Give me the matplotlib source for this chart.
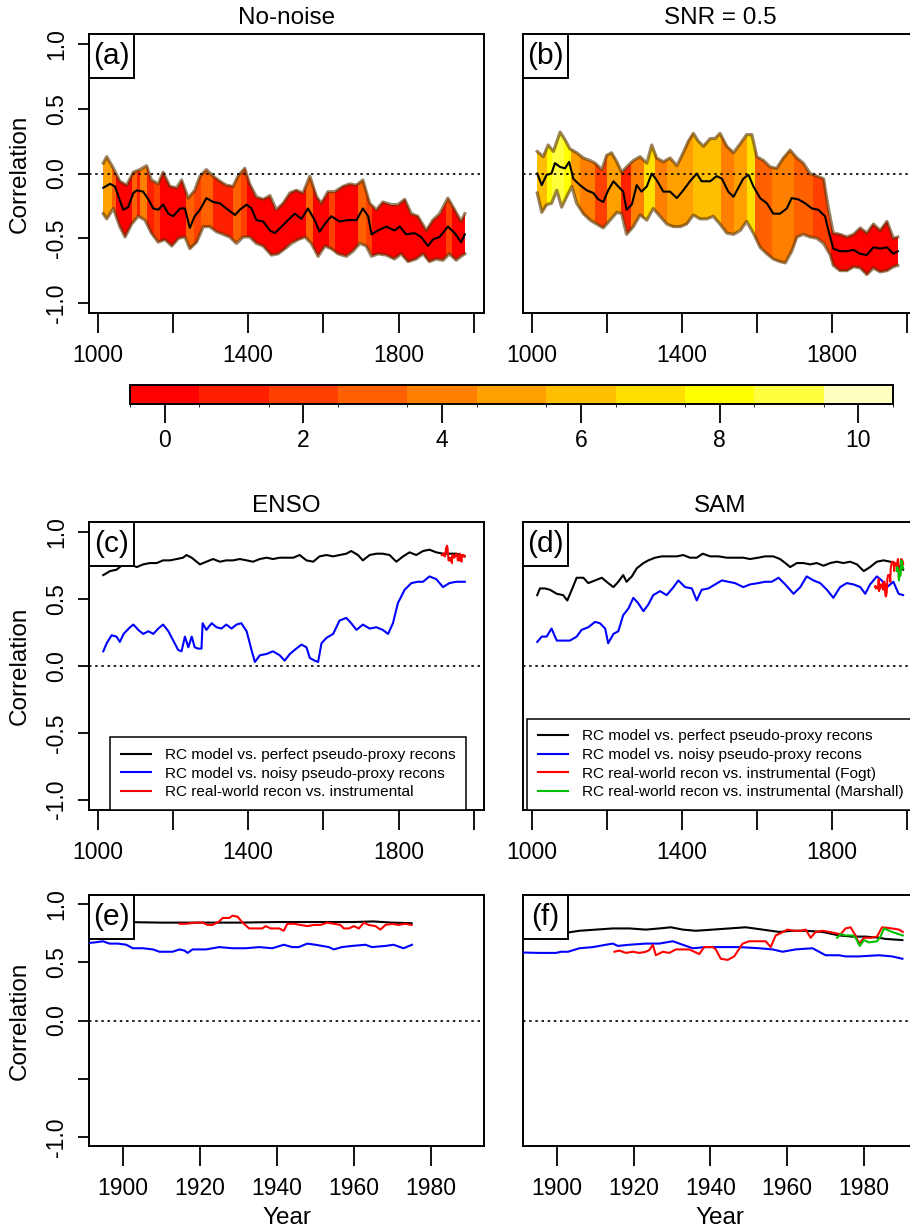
import matplotlib
matplotlib.use('Agg')
import matplotlib.pyplot as plt
import numpy as np
from matplotlib.colors import ListedColormap, BoundaryNorm, hsv_to_rgb
from matplotlib.patches import Polygon, Rectangle
import matplotlib.colorbar as mcb

plt.rcParams['font.family'] = ['Liberation Sans', 'DejaVu Sans']

# ---- panel (a): no-noise, moving correlation with range band ----
a_mean_yr = [1015,1033,1046,1068,1081,1095,1104,1121,1135,1148,1161,1174,1188,1201,1219,1232,1245,1258,1272,1289,
             1307,1325,1342,1365,1378,1396,1409,1422,1440,1458,1471,1489,1506,1524,1542,1559,1577,1590,1604,1621,
             1643,1666,1688,1705,1719,1728,1745,1767,1789,1803,1820,1842,1860,1878,1891,1909,1931,1949,1966,1976]
a_mean = [-0.11,-0.08,-0.10,-0.28,-0.26,-0.15,-0.13,-0.14,-0.20,-0.27,-0.28,-0.24,-0.31,-0.33,-0.27,-0.27,-0.42,-0.33,-0.28,-0.19,
          -0.22,-0.23,-0.27,-0.32,-0.28,-0.24,-0.27,-0.36,-0.37,-0.44,-0.46,-0.41,-0.36,-0.31,-0.35,-0.27,-0.36,-0.45,-0.39,-0.33,
          -0.37,-0.36,-0.36,-0.27,-0.33,-0.47,-0.44,-0.41,-0.44,-0.41,-0.47,-0.46,-0.49,-0.56,-0.51,-0.49,-0.41,-0.46,-0.53,-0.47]
a_up_yr = [1015,1024,1042,1059,1077,1095,1112,1130,1143,1161,1174,1192,1210,1223,1241,1258,1272,1289,1307,1325,
           1342,1360,1373,1391,1404,1422,1440,1458,1475,1493,1511,1528,1546,1564,1582,1595,1612,1630,1652,1670,
           1688,1705,1723,1741,1758,1781,1798,1816,1834,1851,1874,1891,1909,1931,1949,1966,1976]
a_up = [0.08,0.13,0.04,-0.06,-0.09,0.01,0.03,0.06,-0.05,-0.08,0.01,-0.10,-0.11,-0.05,-0.19,-0.13,-0.02,0.03,-0.02,-0.06,
        -0.09,-0.10,-0.02,0.04,-0.08,-0.18,-0.20,-0.17,-0.28,-0.23,-0.15,-0.13,-0.15,-0.02,-0.18,-0.23,-0.14,-0.14,-0.10,-0.08,
        -0.09,-0.05,-0.23,-0.28,-0.22,-0.24,-0.24,-0.20,-0.31,-0.33,-0.44,-0.36,-0.31,-0.19,-0.28,-0.37,-0.31]
a_lo_yr = [1015,1024,1042,1059,1073,1090,1108,1126,1143,1161,1179,1197,1215,1232,1245,1263,1281,1298,1316,1334,
           1351,1369,1387,1404,1422,1440,1462,1480,1498,1515,1533,1551,1568,1586,1604,1621,1639,1661,1679,1697,
           1714,1728,1745,1767,1789,1807,1825,1847,1865,1882,1900,1918,1935,1953,1966,1976]
a_lo = [-0.31,-0.35,-0.27,-0.41,-0.49,-0.39,-0.33,-0.36,-0.46,-0.53,-0.51,-0.56,-0.50,-0.49,-0.58,-0.53,-0.41,-0.41,-0.45,-0.47,
        -0.49,-0.54,-0.49,-0.49,-0.54,-0.56,-0.63,-0.62,-0.58,-0.54,-0.51,-0.49,-0.54,-0.64,-0.56,-0.58,-0.62,-0.64,-0.60,-0.54,
        -0.56,-0.64,-0.62,-0.63,-0.66,-0.62,-0.68,-0.66,-0.62,-0.68,-0.66,-0.67,-0.62,-0.67,-0.64,-0.62]
a_col_edges = [1011,1037,1050,1090,1104,1112,1130,1150,1165,1236,1255,1275,1307,1360,1380,1396,1555,1573,1615,1630,
               1692,1714,1730,1925,1942,1980]
a_col_vals = [5,3,0,3,1,4,1,2,0,3,2,3,1,3,2,0,3,0,2,0,3,2,0,2,0]

# ---- panel (b): SNR = 0.5 ----
b_mean_yr = [1015,1027,1040,1053,1062,1076,1089,1100,1111,1129,1147,1164,1178,1191,1204,1218,1231,1244,1253,1267,
             1280,1293,1307,1320,1333,1351,1369,1387,1404,1422,1440,1453,1476,1493,1507,1524,1538,1551,1564,1578,
             1591,1609,1627,1644,1662,1680,1693,1711,1729,1747,1764,1782,1791,1804,1822,1840,1858,1876,1893,1911,
             1929,1947,1964,1976]
b_mean = [0.0,-0.09,-0.01,0.0,0.08,0.05,0.04,0.09,-0.04,-0.09,-0.13,-0.15,-0.20,-0.22,-0.13,-0.06,-0.10,-0.14,-0.28,-0.24,
          -0.09,-0.14,-0.10,0.0,-0.05,-0.14,-0.14,-0.19,-0.13,-0.06,0.0,-0.06,-0.06,-0.02,-0.04,-0.14,-0.18,-0.11,-0.04,-0.01,
          -0.10,-0.19,-0.23,-0.31,-0.31,-0.27,-0.19,-0.20,-0.23,-0.27,-0.28,-0.33,-0.44,-0.58,-0.60,-0.60,-0.59,-0.62,-0.63,-0.57,
          -0.58,-0.57,-0.62,-0.60]
b_up_yr = [1015,1031,1044,1058,1076,1089,1102,1120,1138,1156,1169,1187,1200,1213,1227,1240,1253,1271,1289,1307,
           1320,1333,1351,1369,1387,1404,1418,1431,1444,1458,1476,1489,1502,1520,1538,1556,1573,1587,1600,1618,
           1636,1653,1671,1689,1707,1724,1742,1760,1778,1791,1804,1822,1840,1858,1876,1893,1911,1929,1947,1964,1976]
b_up = [0.17,0.13,0.22,0.17,0.32,0.26,0.19,0.16,0.12,0.10,0.08,0.03,0.14,0.16,0.09,0.01,0.05,0.10,0.13,0.08,
        0.22,0.12,0.09,0.12,0.06,0.16,0.25,0.31,0.25,0.21,0.27,0.27,0.31,0.21,0.16,0.23,0.30,0.30,0.13,0.10,
        0.05,0.04,0.12,0.18,0.12,0.08,0.0,-0.02,-0.04,-0.27,-0.46,-0.47,-0.49,-0.47,-0.42,-0.46,-0.39,-0.44,-0.37,-0.50,-0.49]
b_lo_yr = [1015,1027,1040,1053,1067,1080,1093,1107,1120,1138,1156,1173,1191,1209,1227,1240,1253,1271,1289,1307,
           1324,1342,1360,1378,1396,1413,1431,1449,1467,1484,1502,1520,1538,1556,1573,1591,1609,1627,1644,1662,
           1676,1693,1707,1724,1742,1760,1778,1796,1804,1822,1840,1858,1876,1893,1911,1929,1947,1964,1976]
b_lo = [-0.15,-0.30,-0.24,-0.23,-0.13,-0.26,-0.18,-0.10,-0.23,-0.31,-0.36,-0.39,-0.42,-0.36,-0.30,-0.31,-0.47,-0.41,-0.32,-0.36,
        -0.27,-0.33,-0.39,-0.41,-0.41,-0.39,-0.32,-0.35,-0.35,-0.33,-0.39,-0.46,-0.47,-0.44,-0.37,-0.46,-0.57,-0.62,-0.66,-0.68,
        -0.69,-0.60,-0.49,-0.47,-0.49,-0.50,-0.54,-0.63,-0.71,-0.75,-0.75,-0.72,-0.73,-0.78,-0.73,-0.76,-0.75,-0.72,-0.71]
b_col_edges = [1013,1040,1055,1085,1105,1130,1170,1200,1237,1265,1300,1328,1360,1430,1505,1540,1573,1595,1640,1700,
               1750,1797,1980]
b_col_vals = [6,8,9,8,5,4,2,5,1,4,7,4,5,6,4,5,7,3,4,3,2,0]

# ---- panel (c): ENSO ----
c_perf_yr = [1015,1033,1050,1068,1086,1104,1121,1139,1157,1174,1192,1210,1227,1236,1250,1263,1272,1289,1307,1325,
             1342,1360,1378,1396,1413,1431,1449,1466,1484,1502,1520,1537,1555,1573,1590,1608,1626,1643,1661,1674,
             1692,1705,1723,1741,1758,1776,1794,1812,1829,1847,1865,1882,1900,1918,1935,1953,1976]
c_perf = [0.68,0.71,0.72,0.76,0.76,0.74,0.76,0.77,0.77,0.79,0.79,0.80,0.81,0.83,0.81,0.78,0.76,0.78,0.80,0.78,
          0.79,0.79,0.80,0.79,0.78,0.80,0.81,0.80,0.81,0.81,0.81,0.83,0.79,0.78,0.82,0.83,0.82,0.83,0.84,0.86,
          0.83,0.79,0.83,0.84,0.84,0.83,0.78,0.82,0.85,0.83,0.86,0.87,0.85,0.84,0.84,0.84,0.82]
c_noisy_yr = [1015,1024,1037,1050,1059,1069,1086,1095,1108,1121,1135,1148,1161,1174,1188,1201,1214,1223,1232,1241,
              1250,1258,1267,1276,1279,1289,1303,1316,1329,1342,1356,1369,1382,1396,1409,1418,1431,1449,1466,1484,
              1497,1511,1528,1542,1555,1564,1577,1586,1595,1608,1626,1643,1661,1674,1688,1705,1723,1741,1758,1772,
              1785,1798,1816,1834,1851,1865,1882,1900,1918,1935,1953,1976]
c_noisy = [0.11,0.17,0.23,0.22,0.18,0.24,0.29,0.31,0.27,0.24,0.26,0.24,0.28,0.31,0.26,0.19,0.12,0.11,0.22,0.14,
           0.22,0.14,0.13,0.13,0.32,0.27,0.32,0.29,0.28,0.31,0.28,0.31,0.32,0.26,0.12,0.03,0.08,0.09,0.11,0.08,
           0.04,0.09,0.13,0.16,0.14,0.06,0.04,0.03,0.17,0.21,0.24,0.34,0.36,0.32,0.27,0.31,0.28,0.29,0.27,0.24,
           0.32,0.47,0.57,0.62,0.63,0.63,0.67,0.65,0.59,0.62,0.63,0.63]

# ---- panel (d): SAM ----
d_perf_yr = [1015,1022,1036,1049,1067,1084,1095,1107,1120,1138,1151,1169,1187,1204,1218,1231,1244,1253,1267,1280,
             1298,1311,1329,1347,1364,1387,1404,1422,1440,1456,1476,1498,1520,1542,1564,1582,1604,1622,1644,1662,
             1676,1689,1707,1724,1742,1760,1778,1796,1813,1831,1849,1867,1885,1902,1920,1938,1956,1973,1990]
d_perf = [0.53,0.58,0.58,0.57,0.54,0.53,0.49,0.57,0.66,0.66,0.62,0.64,0.66,0.62,0.59,0.63,0.68,0.63,0.67,0.73,
          0.77,0.79,0.81,0.82,0.82,0.82,0.83,0.81,0.81,0.84,0.82,0.82,0.81,0.81,0.81,0.80,0.81,0.82,0.82,0.80,
          0.77,0.74,0.77,0.77,0.76,0.77,0.75,0.77,0.78,0.77,0.78,0.76,0.71,0.74,0.78,0.79,0.78,0.76,0.72]
d_noisy_yr = [1015,1027,1040,1053,1067,1084,1102,1120,1133,1151,1169,1182,1196,1204,1218,1231,1244,1258,1271,1284,
              1298,1311,1324,1342,1360,1378,1391,1409,1427,1440,1453,1471,1489,1507,1524,1542,1564,1582,1604,1622,
              1640,1658,1676,1698,1716,1733,1751,1769,1787,1804,1822,1840,1858,1876,1889,1902,1920,1933,1947,1964,
              1978,1990]
d_noisy = [0.18,0.22,0.22,0.28,0.19,0.19,0.19,0.22,0.27,0.29,0.33,0.32,0.28,0.17,0.24,0.26,0.38,0.43,0.51,0.47,
           0.41,0.46,0.53,0.56,0.53,0.59,0.64,0.59,0.58,0.49,0.57,0.58,0.61,0.64,0.63,0.62,0.59,0.61,0.62,0.63,
           0.63,0.66,0.61,0.54,0.59,0.67,0.64,0.62,0.57,0.51,0.59,0.62,0.61,0.59,0.54,0.61,0.67,0.64,0.59,0.63,
           0.54,0.53]

# ---- panel (e): ENSO, 20th century ----
e_perf_yr = [1891,1900,1910,1920,1930,1940,1950,1960,1965,1970,1975]
e_perf = [0.85,0.845,0.84,0.84,0.84,0.845,0.845,0.845,0.85,0.84,0.835]
e_noisy_yr = [1889,1892.7,1894.8,1896.5,1898.7,1900.9,1902.6,1905.2,1907.8,1909.5,1912.9,1914.7,1916,1916.8,1918.1,
              1921.6,1925,1928.5,1931.9,1935.4,1938.8,1941.8,1944,1945.7,1947.9,1950,1953.5,1954.8,1956.9,1959.5,
              1963,1964.7,1968.2,1970.3,1972.9,1975.1]
e_noisy = [0.66,0.67,0.68,0.66,0.66,0.65,0.62,0.62,0.61,0.59,0.59,0.61,0.60,0.58,0.61,0.61,0.63,0.62,0.62,0.63,
           0.62,0.65,0.63,0.63,0.66,0.65,0.63,0.61,0.63,0.64,0.65,0.63,0.64,0.65,0.62,0.65]
enso_real_yr = [1914.7,1916.4,1919,1920.7,1922,1923.3,1925,1925.9,1927.6,1928.5,1929.8,1931.1,1932.8,1934.5,1936.2,
                1937.1,1938.4,1940.6,1941.8,1942.7,1944.4,1946.2,1947.9,1949.6,1951.3,1953.1,1954.8,1956.5,1957.4,
                1958.7,1960,1961.3,1962.6,1963.8,1965.6,1966.9,1968.2,1969.9,1971.6,1973.3,1975]
enso_real = [0.83,0.83,0.84,0.84,0.82,0.82,0.85,0.88,0.88,0.90,0.89,0.84,0.79,0.79,0.79,0.81,0.79,0.79,0.77,0.83,
             0.83,0.82,0.81,0.82,0.82,0.84,0.83,0.82,0.79,0.79,0.81,0.79,0.84,0.82,0.81,0.78,0.82,0.83,0.82,0.83,0.82]

# ---- panel (f): SAM, 20th century ----
f_perf_yr = [1889,1902.9,1905.9,1910.2,1914.6,1918.9,1923.2,1926.7,1929.7,1932.8,1936.2,1940.6,1944.9,1949.2,1953.6,
             1957.9,1961.4,1964.8,1969.2,1973.5,1977,1980.4,1983.9,1985.6,1990]
f_perf = [0.75,0.755,0.77,0.78,0.79,0.79,0.78,0.79,0.80,0.78,0.77,0.78,0.79,0.80,0.78,0.76,0.77,0.77,0.76,0.73,
          0.72,0.72,0.71,0.70,0.69]
f_noisy_yr = [1889,1895.5,1899.8,1901.1,1902.9,1905.9,1909.4,1912.8,1914.6,1915.9,1918.9,1923.2,1926.7,1930.2,1932.8,
              1935.4,1938.8,1942.3,1947.5,1952.7,1956.2,1958.8,1962.2,1966.6,1968.3,1970,1973.5,1975.2,1978.7,1983.9,
              1987.3,1990]
f_noisy = [0.585,0.58,0.58,0.59,0.59,0.62,0.63,0.65,0.66,0.64,0.65,0.66,0.66,0.68,0.65,0.62,0.63,0.63,0.63,0.62,
           0.61,0.59,0.61,0.62,0.59,0.56,0.56,0.55,0.55,0.56,0.55,0.53]
fogt_yr = [1915,1916.3,1918,1919.8,1921.5,1923.2,1924.1,1925,1925.8,1927.6,1929.3,1931,1932.8,1934.5,1937.1,1938.4,
           1940.6,1941.4,1942.7,1944.5,1946.2,1948.4,1950.1,1951.8,1954.4,1955.7,1957,1958.3,1960.1,1961.8,1963.5,
           1964.8,1966.1,1967.4,1969.2,1971.8,1973.9,1975.2,1976.5,1977.8,1978.7,1980,1981.7,1983.4,1984.7,1987.3,
           1989.1,1990.1]
fogt = [0.59,0.60,0.58,0.59,0.58,0.59,0.605,0.65,0.56,0.59,0.58,0.61,0.61,0.61,0.57,0.63,0.63,0.61,0.53,0.52,
        0.55,0.66,0.68,0.68,0.68,0.63,0.73,0.75,0.78,0.77,0.77,0.78,0.71,0.76,0.77,0.755,0.74,0.79,0.80,0.73,
        0.66,0.71,0.71,0.72,0.80,0.79,0.78,0.76]
marshall_yr = [1973,1973.9,1975.2,1977,1977.8,1978.9,1980,1981.3,1983.4,1984.3,1985.2,1987.3,1990.1]
marshall = [0.71,0.74,0.73,0.73,0.71,0.64,0.69,0.67,0.68,0.72,0.79,0.76,0.73]

lab_perf = 'RC model vs. perfect pseudo-proxy recons'
lab_noisy = 'RC model vs. noisy pseudo-proxy recons'

# R heat.colors(11)
heat = [hsv_to_rgb((h, 1, 1)) for h in np.linspace(0, 1/6, 9)] + \
       [hsv_to_rgb((1/6, s, 1)) for s in (0.75, 0.25)]
cmap = ListedColormap(heat)
norm = BoundaryNorm(np.arange(-0.5, 11.5, 1), cmap.N)

W, H = 910, 1232
fig = plt.figure(figsize=(W / 100, H / 100), dpi=100)


def add_axes_px(l, t, r, b):
    return fig.add_axes([l / W, 1 - b / H, (r - l) / W, (b - t) / H])


def style(ax, xlim, xticks, xlabels, ylabels=None):
    ax.set_xlim(*xlim)
    ax.set_ylim(-1.077, 1.077)
    for s in ax.spines.values():
        s.set_linewidth(1.4)
    ax.set_xticks(xticks)
    ax.set_xticklabels(xlabels)
    ax.tick_params(axis='x', direction='out', length=14.4, width=1.3, pad=8, labelsize=16.5)
    if ylabels is None:
        ax.set_yticks([])
    else:
        ax.set_yticks([1, 0.5, 0, -0.5, -1])
        ax.set_yticklabels(ylabels)
        ax.tick_params(axis='y', direction='out', length=8, width=1.3, pad=7,
                       labelsize=16.5, labelrotation=90)
        for lab in ax.get_yticklabels():
            lab.set_va('center')
    ax.axhline(0, color='black', lw=1.2, linestyle=(0, (1.5, 2.2)), zorder=2)


def panel_label(ax, s, axw, axh):
    w, h = 45 / axw, 44 / axh
    ax.add_patch(Rectangle((0, 1 - h), w, h, transform=ax.transAxes, facecolor='white',
                           edgecolor='black', lw=1.4, zorder=5, clip_on=False))
    ax.text(w / 2, 1 - h / 2, s, transform=ax.transAxes, ha='center', va='center',
            fontsize=21.5, zorder=6)


def band(ax, up_yr, up, lo_yr, lo, edges, vals, mean_yr, mean):
    xy = np.column_stack([np.concatenate([up_yr, lo_yr[::-1]]),
                          np.concatenate([up, lo[::-1]])])
    poly = Polygon(xy, closed=True, transform=ax.transData)
    mesh = ax.pcolormesh(edges, [-1.1, 1.1], np.array([vals]), cmap=cmap, norm=norm, zorder=1)
    mesh.set_clip_path(poly)
    edge = (0.35, 0.2, 0.0, 0.6)
    ax.plot(up_yr, up, color=edge, lw=2.3, zorder=2)
    ax.plot(lo_yr, lo, color=edge, lw=2.3, zorder=2)
    ax.plot(mean_yr, mean, color='black', lw=1.5, zorder=3)


def add_legend(ax, x0):
    leg = ax.legend(loc='lower left', bbox_to_anchor=(x0, 0), bbox_transform=ax.transAxes,
                    borderaxespad=0, frameon=True, fancybox=False, edgecolor='black',
                    framealpha=1, fontsize=11.1, handlelength=1.95, handletextpad=0.9,
                    borderpad=0.7, labelspacing=0.3)
    leg.get_frame().set_linewidth(1.1)
    leg.set_zorder(7)


long_ticks = [1000, 1200, 1400, 1600, 1800, 2000]
long_labels = ['1000', '', '1400', '', '1800', '']
long_xlim = (977, 2027)
short_ticks = [1900, 1920, 1940, 1960, 1980]
short_labels = ['1900', '1920', '1940', '1960', '1980']
short_xlim = (1891.2, 1993.8)
full_y = ['1.0', '0.5', '0.0', '-0.5', '-1.0']

# (a)
ax = add_axes_px(89, 34, 484, 313)
band(ax, a_up_yr, a_up, a_lo_yr, a_lo, a_col_edges, a_col_vals, a_mean_yr, a_mean)
style(ax, long_xlim, long_ticks, long_labels, full_y)
panel_label(ax, '(a)', 395, 279)

# (b)
ax = add_axes_px(523, 34, 917, 313)
band(ax, b_up_yr, b_up, b_lo_yr, b_lo, b_col_edges, b_col_vals, b_mean_yr, b_mean)
style(ax, long_xlim, long_ticks, long_labels)
panel_label(ax, '(b)', 394, 279)

# colour scale
cax = add_axes_px(130, 385, 893, 404)
cb = mcb.ColorbarBase(cax, cmap=cmap, norm=norm, orientation='horizontal',
                      ticks=[0, 2, 4, 6, 8, 10])
cb.outline.set_linewidth(1.4)
cax.tick_params(length=13.7, width=1.3, pad=4, labelsize=16.5)

# (c)
ax = add_axes_px(89, 522, 484, 810)
ax.plot(c_perf_yr, c_perf, color='black', lw=1.5, label=lab_perf, zorder=3)
ax.plot(c_noisy_yr, c_noisy, color='blue', lw=1.5, label=lab_noisy, zorder=3)
ax.plot(enso_real_yr, enso_real, color='red', lw=1.5,
        label='RC real-world recon vs. instrumental', zorder=3)
style(ax, long_xlim, long_ticks, long_labels, full_y)
panel_label(ax, '(c)', 395, 288)
add_legend(ax, 21 / 395)

# (d)
ax = add_axes_px(523, 522, 917, 810)
ax.plot(d_perf_yr, d_perf, color='black', lw=1.5, label=lab_perf, zorder=3)
ax.plot(d_noisy_yr, d_noisy, color='blue', lw=1.5, label=lab_noisy, zorder=3)
ax.plot(fogt_yr, fogt, color='red', lw=1.5,
        label='RC real-world recon vs. instrumental (Fogt)', zorder=3)
ax.plot(marshall_yr, marshall, color='#00C000', lw=1.5,
        label='RC real-world recon vs. instrumental (Marshall)', zorder=3)
style(ax, long_xlim, long_ticks, long_labels)
panel_label(ax, '(d)', 394, 288)
add_legend(ax, 4 / 394)

# (e)
ax = add_axes_px(89, 895, 484, 1146)
ax.plot(e_perf_yr, e_perf, color='black', lw=1.5, zorder=3)
ax.plot(e_noisy_yr, e_noisy, color='blue', lw=1.5, zorder=3)
ax.plot(enso_real_yr, enso_real, color='red', lw=1.5, zorder=3)
style(ax, short_xlim, short_ticks, short_labels, ['1.0', '0.5', '0.0', '', '-1.0'])
panel_label(ax, '(e)', 395, 251)

# (f)
ax = add_axes_px(523, 895, 917, 1146)
ax.plot(f_perf_yr, f_perf, color='black', lw=1.5, zorder=3)
ax.plot(f_noisy_yr, f_noisy, color='blue', lw=1.5, zorder=3)
ax.plot(fogt_yr, fogt, color='red', lw=1.5, zorder=3)
ax.plot(marshall_yr, marshall, color='#00C000', lw=1.5, zorder=3)
style(ax, short_xlim, short_ticks, short_labels)
panel_label(ax, '(f)', 394, 251)

# titles and axis labels
for x, y, s in ((286.5, 18, 'No-noise'), (720, 18, 'SNR = 0.5'),
                (286.5, 506, 'ENSO'), (720, 506, 'SAM'),
                (286.5, 1218, 'Year'), (720, 1218, 'Year')):
    fig.text(x / W, 1 - y / H, s, ha='center', va='center', fontsize=17.5)
for y in (173.5, 666, 1020.5):
    fig.text(20 / W, 1 - y / H, 'Correlation', ha='center', va='center',
             rotation=90, fontsize=17.5)

fig.savefig('out.png', dpi=100)
